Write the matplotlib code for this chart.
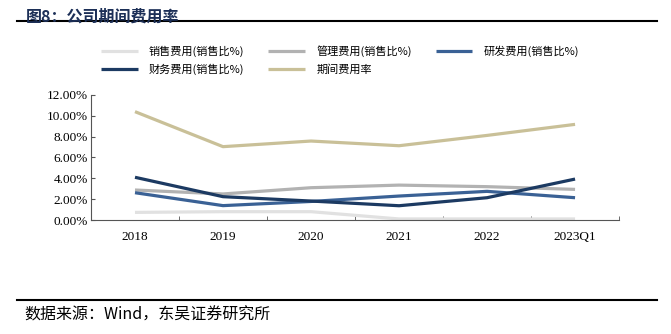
import matplotlib.pyplot as plt
from matplotlib.ticker import FuncFormatter, FixedLocator

plt.rcParams['font.family'] = ['Liberation Serif', 'Noto Sans CJK SC', 'DejaVu Sans']

# 期间费用率数据（%）
periods = ["2018", "2019", "2020", "2021", "2022", "2023Q1"]
sales_ratio = [0.73, 0.80, 0.80, 0.10, 0.10, 0.10]
admin_ratio = [2.88, 2.50, 3.10, 3.35, 3.20, 2.94]
rd_ratio = [2.62, 1.38, 1.78, 2.30, 2.75, 2.14]
finance_ratio = [4.10, 2.24, 1.82, 1.37, 2.14, 3.93]
period_ratio = [10.40, 7.04, 7.58, 7.13, 8.12, 9.18]

series = [
    ("销售费用(销售比%)", sales_ratio, "#e1e1e1"),
    ("管理费用(销售比%)", admin_ratio, "#b2b2b2"),
    ("研发费用(销售比%)", rd_ratio, "#3a6195"),
    ("财务费用(销售比%)", finance_ratio, "#1c3a62"),
    ("期间费用率", period_ratio, "#c9c098"),
]

fig = plt.figure(figsize=(6.71, 3.34), dpi=100)
ax = fig.add_axes([0.1356, 0.3413, 0.787, 0.3743])

x = list(range(len(periods)))
lines = []
for name, vals, color in series:
    ln, = ax.plot(x, [v / 100 for v in vals], color=color, lw=2.3, label=name,
                  solid_capstyle='butt')
    lines.append(ln)

ax.set_xlim(-0.5, len(periods) - 0.5)
ax.set_ylim(0, 0.12)
ax.set_yticks([i * 0.02 for i in range(7)])
ax.yaxis.set_major_formatter(FuncFormatter(lambda v, _: f"{v * 100:.2f}%"))
ax.set_xticks(x)
ax.set_xticklabels(periods)
ax.xaxis.set_minor_locator(FixedLocator([i + 0.5 for i in range(-1, len(periods))]))
ax.tick_params(axis='x', which='major', length=0, pad=8, labelsize=9.5)
ax.tick_params(axis='x', which='minor', direction='in', length=3, color='#555555')
ax.tick_params(axis='y', direction='in', length=3, labelsize=9.5, color='#555555', pad=2)
for side in ('top', 'right'):
    ax.spines[side].set_visible(False)
for side in ('left', 'bottom'):
    ax.spines[side].set_color('#555555')
    ax.spines[side].set_linewidth(0.8)

# 图例按行排列：legend 按列填充，先调整顺序
order = [0, 3, 1, 4, 2]
fig.legend([lines[i] for i in order], [series[i][0] for i in order],
           loc='upper left', bbox_to_anchor=(0.136, 0.894), ncol=3,
           frameon=False, handlelength=3.3, handletextpad=1.0,
           columnspacing=2.15, labelspacing=0.6,
           prop={'family': ['Noto Sans CJK SC', 'DejaVu Sans'], 'size': 8})

# 标题与来源
fig.text(0.038, 0.975, "图8：公司期间费用率", fontsize=11.5, fontweight='bold',
         color='#1c2f57', va='top', family=['Noto Sans CJK SC', 'DejaVu Sans'])
fig.add_artist(plt.Line2D([0.025, 0.979], [0.937, 0.937], color='black', lw=1.5))
fig.add_artist(plt.Line2D([0.025, 0.979], [0.103, 0.103], color='black', lw=1.5))
fig.text(0.037, 0.057, "数据来源：Wind，东吴证券研究所", fontsize=11.5, va='center',
         family=['Noto Sans CJK SC', 'DejaVu Sans'])

fig.savefig("out.png", dpi=100)
